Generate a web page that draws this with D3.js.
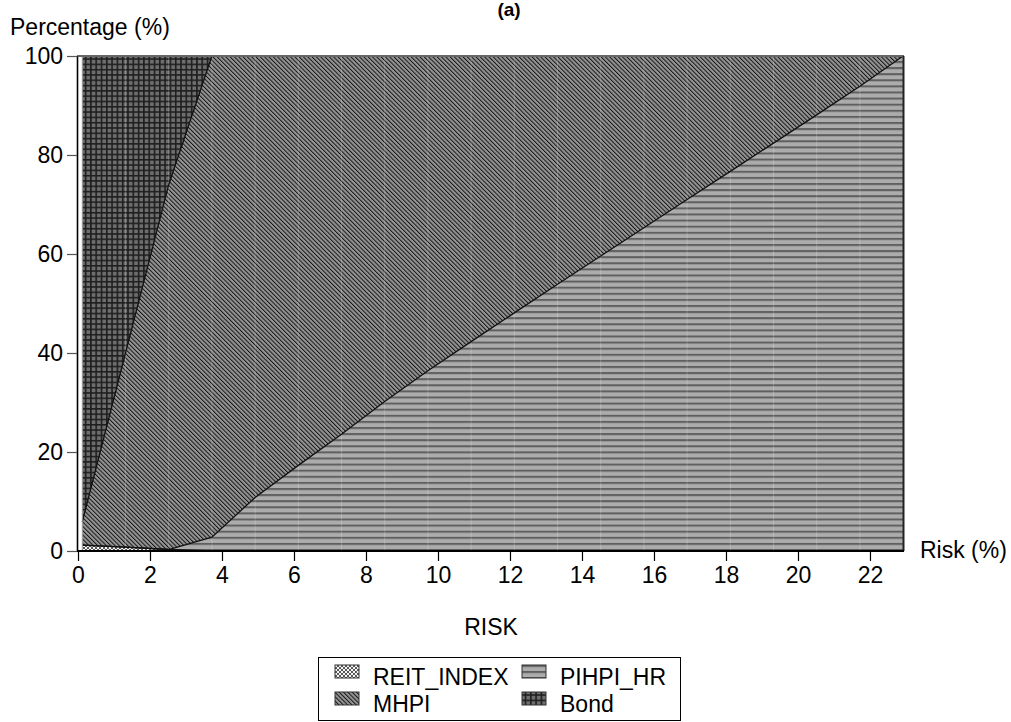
<!DOCTYPE html>
<html>
<head>
<meta charset="utf-8">
<script src="https://cdn.jsdelivr.net/npm/d3@7/dist/d3.min.js"></script>
<style>
  html, body { margin: 0; padding: 0; background: #fff; }
  svg text { font-family: "Liberation Sans", Arial, sans-serif; fill: #000; }
</style>
</head>
<body>
<svg id="chart" width="1011" height="722"></svg>
<script>
// ---- data ----
const risk = [0.12, 1.32, 2.52, 3.72, 4.92, 6.12, 7.32, 8.52, 9.72, 10.92, 12.12, 13.32, 14.52, 15.72, 16.92, 18.12, 19.32, 20.52, 21.72, 22.92];
const reitIndex = [1.2, 0.8, 0.3, 0, 0, 0, 0, 0, 0, 0, 0, 0, 0, 0, 0, 0, 0, 0, 0, 0];
const pihpiHr = [0, 0, 0, 2.8, 10.8, 17.3, 23.6, 30.2, 36.4, 42.3, 48.1, 53.9, 59.6, 65.3, 71.0, 76.7, 82.4, 88.1, 93.9, 100];
const mhpi = [4.7, 39.2, 73.7, 97.2, 89.2, 82.7, 76.4, 69.8, 63.6, 57.7, 51.9, 46.1, 40.4, 34.7, 29.0, 23.3, 17.6, 11.9, 6.1, 0];
const bond = [94.1, 60.0, 26.0, 0, 0, 0, 0, 0, 0, 0, 0, 0, 0, 0, 0, 0, 0, 0, 0, 0];
const seriesKeys = ["REIT_INDEX", "PIHPI_HR", "MHPI", "Bond"];
const xTicks = [0, 2, 4, 6, 8, 10, 12, 14, 16, 18, 20, 22];
const yTicks = [0, 20, 40, 60, 80, 100];

const rows = risk.map((r, i) => ({
  risk: r, REIT_INDEX: reitIndex[i], PIHPI_HR: pihpiHr[i], MHPI: mhpi[i], Bond: bond[i]
}));

const svg = d3.select("#chart");
const defs = svg.append("defs");

// ---- patterns ----
const pReit = defs.append("pattern").attr("id", "p-REIT_INDEX").attr("patternUnits", "userSpaceOnUse")
  .attr("width", 4).attr("height", 4);
pReit.append("rect").attr("width", 4).attr("height", 4).attr("fill", "#f4f4f4");
pReit.append("path").attr("d", "M0,0L4,4M4,0L0,4").attr("stroke", "#5a5a5a").attr("stroke-width", 1);

const pPi = defs.append("pattern").attr("id", "p-PIHPI_HR").attr("patternUnits", "userSpaceOnUse")
  .attr("width", 10).attr("height", 6.1);
pPi.append("rect").attr("width", 10).attr("height", 6.1).attr("fill", "#acacac");
pPi.append("rect").attr("y", 0).attr("width", 10).attr("height", 2).attr("fill", "#5f5f5f");

const pMh = defs.append("pattern").attr("id", "p-MHPI").attr("patternUnits", "userSpaceOnUse")
  .attr("width", 3.05).attr("height", 10).attr("patternTransform", "rotate(-45)");
pMh.append("rect").attr("width", 3.05).attr("height", 10).attr("fill", "#949494");
pMh.append("rect").attr("x", 0).attr("width", 0.95).attr("height", 10).attr("fill", "#111");

const pBo = defs.append("pattern").attr("id", "p-Bond").attr("patternUnits", "userSpaceOnUse")
  .attr("width", 5.3).attr("height", 5.3);
pBo.append("rect").attr("width", 5.3).attr("height", 5.3).attr("fill", "#6e6e6e");
pBo.append("path").attr("d", "M0,0.8H5.3M0.8,0V5.3").attr("stroke", "#1e1e1e").attr("stroke-width", 1.6);

// ---- scales ----
const x = d3.scaleLinear().domain([0, 22.92]).range([78, 903.1]);
const y = d3.scaleLinear().domain([0, 100]).range([551, 56]);

const layers = d3.stack().keys(seriesKeys)(rows);

const area = d3.area()
  .x(d => x(d.data.risk))
  .y0(d => y(d[0]))
  .y1(d => y(d[1]));

const line = d3.line()
  .x(d => x(d.data.risk))
  .y(d => y(d[1]));

const g = svg.append("g");
g.selectAll("path.layer").data(layers).enter().append("path")
  .attr("class", "layer")
  .attr("d", area)
  .attr("fill", d => `url(#p-${d.key})`);

// faint seams at sample points
g.selectAll("line.seam").data(risk.slice(1, -1)).enter().append("line")
  .attr("x1", d => x(d)).attr("x2", d => x(d))
  .attr("y1", y(100)).attr("y2", y(0))
  .attr("stroke", "#ffffff").attr("stroke-opacity", 0.2).attr("stroke-width", 1);

// boundary lines
g.selectAll("path.bound").data(layers.slice(0, 3)).enter().append("path")
  .attr("class", "bound")
  .attr("d", line)
  .attr("fill", "none")
  .attr("stroke", "#111")
  .attr("stroke-width", 1.3);

g.append("line").attr("x1", x(risk[0])).attr("x2", x(risk[0]))
  .attr("y1", y(100)).attr("y2", y(0)).attr("stroke", "#999").attr("stroke-width", 1);

// frame
svg.append("line").attr("x1", 77).attr("x2", 904).attr("y1", y(100)).attr("y2", y(100))
  .attr("stroke", "#666").attr("stroke-width", 2);
svg.append("line").attr("x1", 903.5).attr("x2", 903.5).attr("y1", y(100)).attr("y2", y(0))
  .attr("stroke", "#222").attr("stroke-width", 2);

// ---- axes ----
const fontSize = 23;
const xAxis = svg.append("g").attr("transform", `translate(0,${y(0)})`)
  .call(d3.axisBottom(x).tickValues(xTicks).tickSize(10).tickSizeOuter(0).tickPadding(6).tickFormat(d3.format("d")));
xAxis.select(".domain").attr("d", `M77,0H904`).attr("stroke", "#000").attr("stroke-width", 2);
xAxis.selectAll(".tick line").attr("stroke", "#000").attr("stroke-width", 1.2);
xAxis.selectAll(".tick text").attr("font-size", fontSize).attr("font-family", "Liberation Sans, Arial, sans-serif").attr("fill", "#000");

const yAxis = svg.append("g").attr("transform", `translate(77,0)`)
  .call(d3.axisLeft(y).tickValues(yTicks).tickSize(10).tickSizeOuter(0).tickPadding(4).tickFormat(d3.format("d")));
yAxis.select(".domain").attr("stroke", "#000").attr("stroke-width", 1.6);
yAxis.selectAll(".tick line").attr("stroke", "#555").attr("stroke-width", 1.2);
yAxis.selectAll(".tick text").attr("font-size", fontSize).attr("font-family", "Liberation Sans, Arial, sans-serif").attr("fill", "#000");

// ---- labels ----
svg.append("text").attr("x", 509).attr("y", 16).attr("text-anchor", "middle")
  .attr("font-size", 19).attr("font-weight", "bold").text("(a)");
svg.append("text").attr("x", 10).attr("y", 35).attr("font-size", fontSize).text("Percentage (%)");
svg.append("text").attr("x", 920).attr("y", 558).attr("font-size", fontSize).text("Risk (%)");
svg.append("text").attr("x", 491).attr("y", 635).attr("text-anchor", "middle").attr("font-size", fontSize).text("RISK");

// ---- legend ----
const legend = svg.append("g");
legend.append("rect").attr("x", 318.5).attr("y", 657.5).attr("width", 362).attr("height", 63)
  .attr("fill", "#fff").attr("stroke", "#000").attr("stroke-width", 1);
const legendItems = [
  { key: "REIT_INDEX", col: 0, row: 0 },
  { key: "PIHPI_HR", col: 1, row: 0 },
  { key: "MHPI", col: 0, row: 1 },
  { key: "Bond", col: 1, row: 1 }
];
const colX = [335, 522];
const rowY = [665, 692];
legendItems.forEach(it => {
  const gx = colX[it.col], gy = rowY[it.row];
  legend.append("rect").attr("x", gx).attr("y", gy).attr("width", 24).attr("height", 13)
    .attr("fill", `url(#p-${it.key})`).attr("stroke", "#333").attr("stroke-width", 1);
  legend.append("text").attr("x", gx + 38).attr("y", gy + 20).attr("font-size", fontSize).text(it.key);
});
</script>
</body>
</html>
